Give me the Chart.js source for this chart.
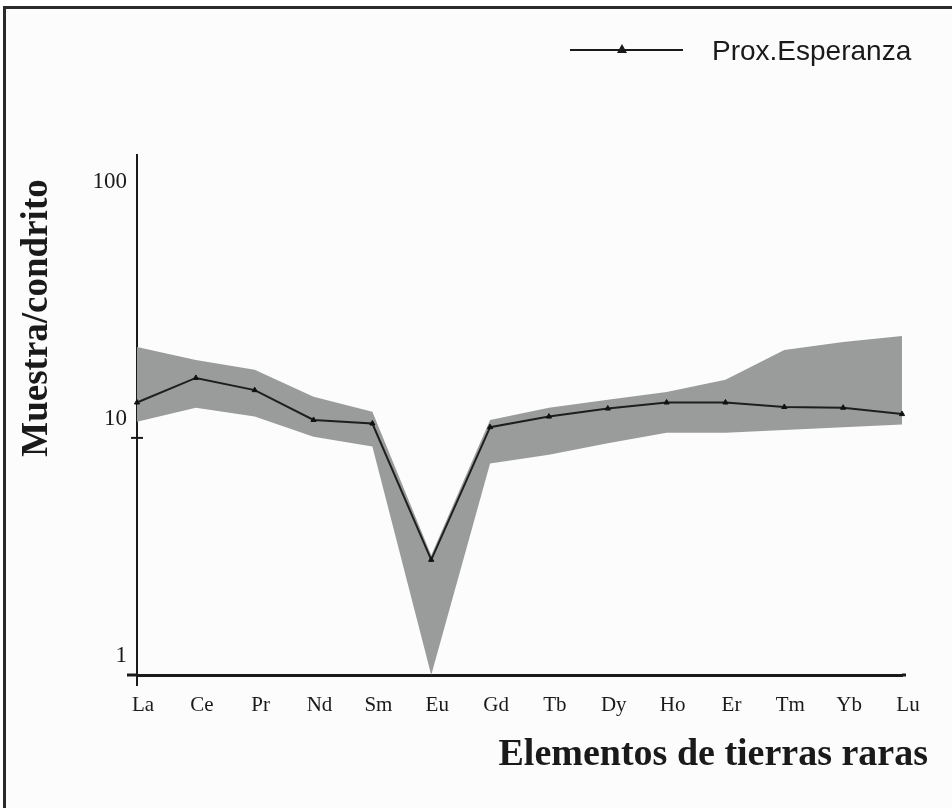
<!DOCTYPE html>
<html><head><meta charset="utf-8">
<script src="https://cdn.jsdelivr.net/npm/chart.js@4"></script>
<style>
html,body{margin:0;padding:0;background:#fff;}
#wrap{position:relative;width:952px;height:808px;overflow:hidden;background:#fff;}
#frame{position:absolute;left:3px;top:6px;width:990px;height:900px;border-left:3px solid #2a2a2a;border-top:3px solid #2a2a2a;background:#fcfcfc;}
canvas{position:absolute;left:0;top:0;}
</style></head><body>
<div id="wrap"><div id="frame"></div><canvas id="c" width="952" height="808"></canvas></div>
<script>
const elements = ['La','Ce','Pr','Nd','Sm','Eu','Gd','Tb','Dy','Ho','Er','Tm','Yb','Lu'];
const sampleValues = [14.1, 17.9, 15.9, 11.9, 11.5, 3.06, 11.1, 12.3, 13.3, 14.1, 14.1, 13.5, 13.4, 12.6];
const rangeUpper = [24.2, 21.3, 19.4, 14.9, 12.9, 3.2, 11.9, 13.4, 14.5, 15.6, 17.6, 23.5, 25.4, 26.9];
const rangeLower = [11.7, 13.4, 12.3, 10.1, 9.2, 1.0, 7.8, 8.5, 9.5, 10.5, 10.5, 10.8, 11.1, 11.4];
const yTickValues = [1, 10, 100];
const seriesName = 'Prox.Esperanza';
const xAxisTitle = 'Elementos de tierras raras';
const yAxisTitle = 'Muestra/condrito';

const ink = '#1a1a1a';
const extras = {
  id: 'extras',
  afterDraw(chart) {
    const ctx = chart.ctx;
    const xs = chart.scales.x, ys = chart.scales.y;
    const ca = chart.chartArea;
    ctx.save();
    ctx.strokeStyle = ink; ctx.fillStyle = ink;
    // axis overhangs
    ctx.lineWidth = 3;
    ctx.beginPath(); ctx.moveTo(127, ca.bottom); ctx.lineTo(ca.left, ca.bottom);
    ctx.moveTo(ca.right, ca.bottom); ctx.lineTo(ca.right + 4, ca.bottom); ctx.stroke();
    ctx.lineWidth = 2;
    ctx.beginPath(); ctx.moveTo(ca.left, ca.bottom); ctx.lineTo(ca.left, ca.bottom + 11); ctx.stroke();
    const y10 = ys.getPixelForValue(10);
    ctx.beginPath(); ctx.moveTo(ca.left - 6, y10); ctx.lineTo(ca.left + 6, y10); ctx.stroke();
    // legend
    ctx.lineWidth = 2;
    ctx.beginPath(); ctx.moveTo(570, 50); ctx.lineTo(683, 50); ctx.stroke();
    ctx.beginPath(); ctx.moveTo(622, 44); ctx.lineTo(627, 53); ctx.lineTo(617, 53); ctx.closePath(); ctx.fill();
    ctx.font = '28px "Liberation Sans", Arial, sans-serif';
    ctx.textAlign = 'left'; ctx.textBaseline = 'alphabetic';
    ctx.fillText(seriesName, 712, 60);
    // x title
    ctx.font = 'bold 38px "Liberation Serif", "Times New Roman", serif';
    ctx.textAlign = 'right';
    ctx.fillText(xAxisTitle, 928, 765);
    // y title
    ctx.translate(37, 318);
    ctx.rotate(-Math.PI / 2);
    ctx.font = 'bold 37px "Liberation Serif", "Times New Roman", serif';
    ctx.textAlign = 'center'; ctx.textBaseline = 'middle';
    ctx.fillText(yAxisTitle, 0, 0);
    ctx.restore();
  }
};

new Chart(document.getElementById('c'), {
  type: 'line',
  data: {
    labels: elements,
    datasets: [
      {
        label: seriesName, data: sampleValues, order: 0,
        borderColor: '#1e1e1e', borderWidth: 2, tension: 0, fill: false,
        pointStyle: 'triangle', pointRadius: 3, pointBackgroundColor: '#111', pointBorderColor: '#111', pointBorderWidth: 1
      },
      {
        label: 'upper', data: rangeUpper, order: 1, fill: '+1',
        backgroundColor: '#9a9b9b', borderColor: 'rgba(0,0,0,0)', borderWidth: 0, pointRadius: 0, tension: 0
      },
      {
        label: 'lower', data: rangeLower, order: 2, fill: false,
        backgroundColor: '#9a9b9b', borderColor: 'rgba(0,0,0,0)', borderWidth: 0, pointRadius: 0, tension: 0
      }
    ]
  },
  options: {
    responsive: false, animation: false, devicePixelRatio: 1,
    layout: { padding: { left: 0, right: 50, top: 155, bottom: 0 } },
    plugins: { legend: { display: false }, tooltip: { enabled: false } },
    scales: {
      x: {
        type: 'category', offset: false,
        grid: { display: false },
        border: { color: ink, width: 3 },
        ticks: { font: { family: '"Liberation Serif", "Times New Roman", serif', size: 21 }, color: ink, padding: 10, labelOffset: 6, maxRotation: 0, autoSkip: false },
        afterFit(s) { s.height = 133; }
      },
      y: {
        type: 'logarithmic', min: 1, max: 156,
        afterBuildTicks(s) { s.ticks = yTickValues.map(v => ({ value: v })); },
        grid: { display: false },
        border: { color: ink, width: 2 },
        ticks: { callback: v => String(v), font: { family: '"Liberation Serif", "Times New Roman", serif', size: 23 }, color: ink, padding: 2, labelOffset: -19 },
        afterFit(s) { s.width = 137; }
      }
    }
  },
  plugins: [extras]
});
</script>
</body></html>
